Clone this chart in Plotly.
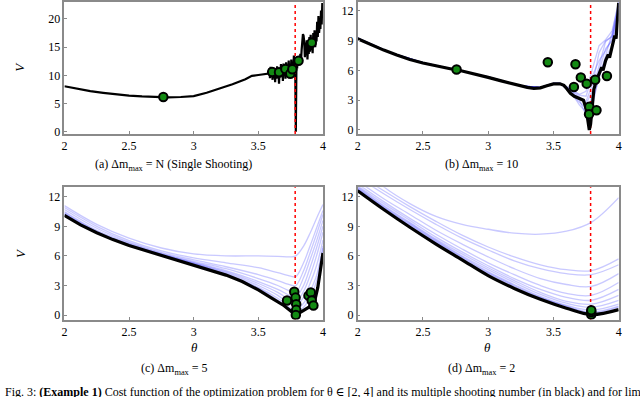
import plotly.graph_objects as go
from plotly.subplots import make_subplots

# optimum theta (red dotted line)
theta_star = 3.785

# (a) single shooting
theta_a = [2.0, 2.1, 2.2, 2.3, 2.4, 2.5, 2.6, 2.7, 2.8, 2.9, 3.0, 3.1, 3.2, 3.3, 3.4, 3.45, 3.5, 3.55, 3.58,
           3.585, 3.59, 3.595, 3.60, 3.605, 3.61, 3.615, 3.62, 3.625, 3.63, 3.635, 3.64, 3.645, 3.65, 3.655,
           3.66, 3.665, 3.67, 3.675, 3.68, 3.685, 3.69, 3.695, 3.70, 3.705, 3.71, 3.715, 3.72, 3.725, 3.73,
           3.735, 3.74, 3.745, 3.75, 3.755, 3.76, 3.765, 3.77, 3.775, 3.78, 3.785, 3.79, 3.795, 3.80, 3.805,
           3.81, 3.815, 3.82, 3.825, 3.83, 3.835, 3.84, 3.845, 3.85, 3.855, 3.86, 3.865, 3.87, 3.875, 3.88,
           3.885, 3.89, 3.895, 3.90, 3.905, 3.91, 3.915, 3.92, 3.925, 3.93, 3.935, 3.94, 3.945, 3.95, 3.955,
           3.96, 3.965, 3.97, 3.975, 3.98, 3.985, 3.99, 3.995, 4.0]
v_a = [8.06, 7.6, 7.2, 6.9, 6.6, 6.4, 6.25, 6.15, 6.1, 6.15, 6.3, 6.9, 7.6, 8.4, 9.3, 9.9, 10.05, 10.2, 10.3,
       11.2, 9.5, 11.5, 9.8, 11.0, 9.2, 11.4, 9.6, 10.9, 8.8, 11.2, 9.4, 11.6, 9.9, 10.8,
       8.5, 11.0, 9.6, 12.0, 9.9, 11.3, 9.0, 12.1, 10.0, 11.5, 9.4, 12.3, 10.3, 11.7, 9.7,
       12.6, 10.5, 11.9, 9.9, 12.8, 10.6, 12.2, 10.8, 13.5, 11.0, 12.0, 0.0, 12.5, 11.2, 13.4,
       11.8, 13.0, 12.0, 13.8, 12.5, 14.5, 16.5, 17.3, 17.0, 16.0, 13.2, 15.8, 13.5, 16.2, 12.8,
       15.5, 13.8, 16.8, 14.2, 17.2, 14.5, 16.6, 13.9, 17.5, 15.2, 18.0, 15.0, 17.2, 16.0, 19.5,
       16.8, 20.5, 17.5, 19.0, 18.2, 21.5, 19.0, 22.8, 21.0]
pts_a_theta = [2.765, 3.607, 3.66, 3.709, 3.747, 3.763, 3.811, 3.913]
pts_a_v = [6.14, 10.6, 10.55, 11.13, 10.26, 11.07, 12.58, 15.77]

# (b) dm_max = 10
theta_b = [2.0, 2.1, 2.2, 2.3, 2.4, 2.5, 2.6, 2.7, 2.8, 2.9, 3.0, 3.1, 3.2, 3.3, 3.35, 3.4, 3.45, 3.5, 3.55,
           3.58, 3.6, 3.63, 3.66, 3.7, 3.73, 3.75, 3.765, 3.775, 3.785, 3.8, 3.81, 3.83, 3.85, 3.87, 3.88,
           3.9, 3.92, 3.93, 3.95, 3.97, 3.98, 4.0]
v_b = [9.2, 8.6, 8.05, 7.55, 7.1, 6.75, 6.45, 6.2, 5.95, 5.65, 5.3, 4.95, 4.6, 4.3, 4.2, 4.25, 4.45, 4.65, 4.65,
       4.5, 4.2, 3.7, 3.4, 3.2, 3.0, 2.2, 0.8, 0.0, 0.6, 2.5, 4.1, 5.0, 5.6, 6.3, 6.0,
       7.0, 7.6, 7.3, 8.4, 9.5, 9.2, 12.8]
theta_b_head = [2.0, 2.25, 2.5, 2.75, 3.0, 3.25, 3.4, 3.5, 3.55]
v_b_head = [9.25, 7.8, 6.8, 6.1, 5.35, 4.45, 4.3, 4.7, 4.7]
theta_b_tail = [3.6, 3.65, 3.7, 3.75, 3.8, 3.85, 3.9, 3.95, 4.0]
v_b_tails = [
    [4.3, 3.8, 3.3, 2.6, 4.0, 6.5, 8.9, 9.5, 12.5],
    [4.2, 3.5, 2.5, 1.8, 3.5, 6.0, 8.2, 9.0, 12.0],
    [4.3, 3.9, 3.5, 3.4, 5.5, 7.0, 8.0, 9.2, 12.7],
    [4.1, 3.4, 2.8, 2.2, 3.0, 5.2, 7.5, 9.8, 12.9],
    [4.4, 4.0, 3.6, 3.9, 6.2, 8.5, 9.1, 10.0, 12.9],
    [4.2, 3.6, 3.0, 1.5, 2.5, 5.5, 7.2, 8.6, 11.8],
    [4.3, 3.7, 3.1, 2.9, 4.6, 7.8, 9.0, 9.4, 12.2],
]
pts_b_theta = [2.758, 3.457, 3.669, 3.71, 3.657, 3.755, 3.82, 3.91, 3.775, 3.773, 3.83]
pts_b_v = [6.1, 6.83, 6.63, 5.3, 4.34, 4.67, 5.07, 5.44, 2.35, 1.59, 1.99]

# (c) dm_max = 5
theta_c = [2.0, 2.25, 2.5, 2.75, 3.0, 3.25, 3.5, 3.65, 3.75, 3.79, 3.85, 3.9, 3.95, 4.0]
v_c_blue = [
    [11.1, 9.2, 7.8, 6.8, 6.2, 6.0, 6.0, 5.95, 5.9, 6.0, 7.0, 8.3, 9.8, 11.2],
    [10.9, 9.0, 7.55, 6.5, 5.8, 5.3, 4.8, 4.3, 3.95, 3.9, 5.3, 7.0, 8.8, 10.6],
    [10.7, 8.8, 7.4, 6.35, 5.6, 4.9, 4.1, 3.5, 3.05, 3.0, 4.5, 6.3, 8.2, 10.2],
    [10.5, 8.6, 7.3, 6.25, 5.45, 4.7, 3.7, 3.0, 2.4, 2.3, 3.8, 5.6, 7.5, 9.6],
    [10.4, 8.5, 7.2, 6.2, 5.35, 4.5, 3.4, 2.6, 1.95, 1.8, 3.0, 4.8, 6.8, 9.0],
    [10.3, 8.45, 7.15, 6.15, 5.3, 4.4, 3.2, 2.3, 1.5, 1.3, 2.4, 4.0, 6.0, 8.4],
    [10.25, 8.4, 7.1, 6.1, 5.25, 4.3, 3.0, 2.0, 1.1, 0.9, 1.8, 3.2, 5.0, 7.6],
    [10.2, 8.35, 7.1, 6.1, 5.2, 4.2, 2.8, 1.7, 0.7, 0.5, 1.2, 2.4, 4.0, 7.0],
    [10.15, 8.3, 7.08, 6.08, 5.15, 4.1, 2.7, 1.5, 0.5, 0.3, 0.8, 1.8, 3.4, 6.8],
]
theta_c_black = [2.0, 2.125, 2.25, 2.375, 2.5, 2.625, 2.75, 2.875, 3.0, 3.125, 3.25, 3.375, 3.5, 3.6, 3.7,
                 3.79, 3.85, 3.9, 3.93, 3.96, 4.0]
v_c_black = [10.1, 9.15, 8.35, 7.65, 7.05, 6.55, 6.05, 5.6, 5.1, 4.6, 4.05, 3.4, 2.55, 1.75, 0.95,
             0.0, 0.45, 0.8, 1.1, 2.8, 6.3]
pts_c_theta = [3.722, 3.778, 3.788, 3.793, 3.793, 3.79, 3.888, 3.906, 3.913, 3.926]
pts_c_v = [1.47, 2.37, 1.77, 1.1, 0.53, 0.0, 1.97, 2.3, 1.47, 0.97]

# (d) dm_max = 2
theta_d = [2.0, 2.2, 2.4, 2.6, 2.8, 3.0, 3.2, 3.4, 3.6, 3.79, 4.0]
v_d_black = [12.6, 10.7, 8.9, 7.2, 5.6, 4.0, 2.7, 1.6, 0.7, 0.05, 0.55]
v_d_blue = [
    [15.5, 13.0, 11.3, 10.0, 9.2, 8.7, 8.3, 8.2, 8.5, 9.4, 11.9],
    [14.3, 12.6, 11.0, 9.5, 8.1, 6.9, 5.9, 5.1, 4.6, 4.5, 5.7],
    [14.0, 12.3, 10.7, 9.2, 7.8, 6.6, 5.5, 4.7, 4.2, 4.1, 5.1],
    [13.6, 11.8, 10.2, 8.6, 7.2, 5.9, 4.7, 3.7, 3.1, 2.9, 4.2],
    [13.3, 11.5, 9.8, 8.2, 6.7, 5.3, 4.1, 3.0, 2.2, 2.0, 3.3],
    [13.1, 11.3, 9.6, 7.9, 6.4, 5.0, 3.7, 2.6, 1.8, 1.5, 2.6],
    [13.0, 11.1, 9.4, 7.7, 6.2, 4.8, 3.5, 2.3, 1.4, 1.1, 2.0],
    [12.9, 11.0, 9.3, 7.6, 6.0, 4.6, 3.3, 2.1, 1.2, 0.8, 1.5],
    [12.8, 10.9, 9.2, 7.5, 5.9, 4.4, 3.1, 1.9, 1.0, 0.5, 1.1],
    [12.75, 10.85, 9.1, 7.4, 5.8, 4.3, 3.0, 1.8, 0.9, 0.3, 0.9],
    [12.7, 10.8, 9.0, 7.3, 5.7, 4.2, 2.9, 1.75, 0.85, 0.2, 0.8],
]
pts_d_theta = [3.79, 3.79, 3.79]
pts_d_v = [0.05, 0.3, 0.5]

x_ticks = [2, 2.5, 3, 3.5, 4]
y_ticks_a = [0, 5, 10, 15, 20]
y_ticks_bcd = [0, 3, 6, 9, 12]

captions = [
    "(a) Δm<sub>max</sub> = N (Single Shooting)",
    "(b) Δm<sub>max</sub> = 10",
    "(c) Δm<sub>max</sub> = 5",
    "(d) Δm<sub>max</sub> = 2",
]

FONT = "Liberation Serif, DejaVu Serif, serif"
BLUE = "rgba(40,40,255,0.25)"
GRAY = "#8a8a8a"

fig = make_subplots(rows=2, cols=2)


def add_blue(x, y, row, col, shape="spline"):
    fig.add_trace(go.Scatter(x=x, y=y, mode="lines", line=dict(color=BLUE, width=1.3, shape=shape),
                             showlegend=False, hoverinfo="skip"), row=row, col=col)


def add_black(x, y, row, col, width=3.2, shape="linear"):
    fig.add_trace(go.Scatter(x=x, y=y, mode="lines", line=dict(color="black", width=width, shape=shape),
                             showlegend=False), row=row, col=col)


def add_red(row, col, y0, y1):
    fig.add_trace(go.Scatter(x=[theta_star, theta_star], y=[y0, y1], mode="lines",
                             line=dict(color="red", width=1.5, dash="dot"), showlegend=False), row=row, col=col)


def add_points(x, y, row, col):
    fig.add_trace(go.Scatter(x=x, y=y, mode="markers",
                             marker=dict(color="#138a13", size=8.5, line=dict(color="black", width=2)),
                             showlegend=False), row=row, col=col)


# (a)
add_black(theta_a, v_a, 1, 1, width=2.2)
add_red(1, 1, -0.4, 23)
add_points(pts_a_theta, pts_a_v, 1, 1)

# (b)
for tail in v_b_tails:
    add_blue(theta_b_head + theta_b_tail, v_b_head + tail, 1, 2, shape="linear")
add_red(1, 2, -0.4, 13)
add_black(theta_b, v_b, 1, 2)
add_points(pts_b_theta, pts_b_v, 1, 2)

# (c)
for v in v_c_blue:
    add_blue(theta_c, v, 2, 1)
add_red(2, 1, -0.5, 13)
add_black(theta_c_black, v_c_black, 2, 1)
add_points(pts_c_theta, pts_c_v, 2, 1)

# (d)
for v in v_d_blue:
    add_blue(theta_d, v, 2, 2)
add_red(2, 2, -0.5, 13)
add_black(theta_d, v_d_black, 2, 2, shape="spline")
add_points(pts_d_theta, pts_d_v, 2, 2)

x_domains = [[62 / 640, 323 / 640], [358 / 640, 621.5 / 640]]
y_domains = [[1 - 135 / 397, 1 - 1 / 397], [1 - 323.5 / 397, 1 - 189 / 397]]
y_ranges = [[-0.4, 23], [-0.4, 12.9], [-0.46, 12.97], [-0.46, 12.97]]

axis_style = dict(showline=True, linecolor=GRAY, linewidth=1.6, mirror=True, showgrid=False, zeroline=False,
                  ticks="inside", ticklen=3, tickcolor=GRAY, tickwidth=1,
                  tickfont=dict(family=FONT, size=12, color="black"))

for i, (row, col) in enumerate([(1, 1), (1, 2), (2, 1), (2, 2)]):
    fig.update_xaxes(range=[2, 4], tickvals=x_ticks, domain=x_domains[col - 1], row=row, col=col, **axis_style)
    fig.update_yaxes(range=y_ranges[i], tickvals=y_ticks_a if i == 0 else y_ticks_bcd,
                     domain=y_domains[row - 1], row=row, col=col, **axis_style)

annotations = []
cap_pos = [(172, 167), (483, 167), (173, 374), (483, 374)]
for text, (px, py) in zip(captions, cap_pos):
    annotations.append(dict(text=text, x=px / 640, y=1 - py / 397, xref="paper", yref="paper",
                            xanchor="center", yanchor="middle",
                            showarrow=False, font=dict(family=FONT, size=12, color="black")))
for py in [67, 256]:
    annotations.append(dict(text="<i>V</i>", x=17 / 640, y=1 - py / 397, xref="paper", yref="paper",
                            xanchor="center", yanchor="middle",
                            textangle=-90, showarrow=False, font=dict(family=FONT, size=13, color="black")))
for px in [193, 489]:
    annotations.append(dict(text="<i>θ</i>", x=px / 640, y=1 - 352 / 397, xref="paper", yref="paper",
                            xanchor="center", yanchor="middle",
                            showarrow=False, font=dict(family=FONT, size=13, color="black")))
annotations.append(dict(
    text="Fig. 3: <b>(Example 1)</b> Cost function of the optimization problem for θ ∈ [2, 4] and its multiple shooting number (in black) and for limited",
    x=0, y=1 - 388 / 397, xref="paper", yref="paper", xanchor="left", yanchor="top",
    showarrow=False, font=dict(family=FONT, size=12, color="black")))

fig.update_layout(width=640, height=397, margin=dict(l=0, r=0, t=0, b=0),
                  font=dict(family=FONT, size=12, color="black"),
                  plot_bgcolor="white", paper_bgcolor="white", annotations=annotations)

fig.write_html("out.html", config={"displayModeBar": False},
               post_script="document.body.style.margin='0';")
